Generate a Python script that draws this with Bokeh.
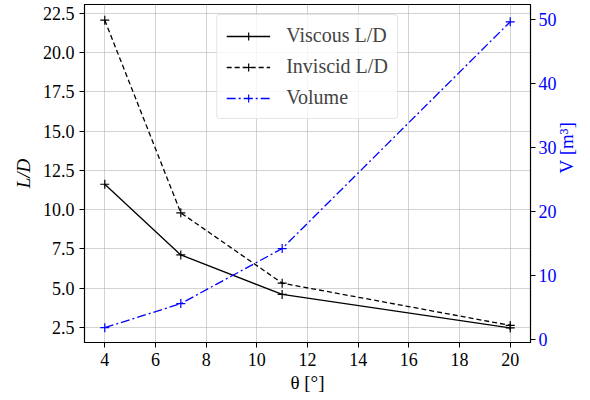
import math
from bokeh.plotting import figure
from bokeh.models import (Range1d, LinearAxis, FixedTicker, Legend, LegendItem,
                          CustomJSTickFormatter)
from bokeh.embed import file_html
from bokeh.resources import INLINE

theta = [4, 7, 11, 20]
viscous_ld = [11.62, 7.12, 4.6, 2.47]
inviscid_ld = [22.07, 9.8, 5.32, 2.63]
volume = [1.85, 5.6, 14.2, 49.6]

x_ticks = [4, 6, 8, 10, 12, 14, 16, 18, 20]
ld_ticks = [2.5, 5.0, 7.5, 10.0, 12.5, 15.0, 17.5, 20.0, 22.5]
v_ticks = [0, 10, 20, 30, 40, 50]

FONT = "Liberation Serif"
BLUE = "#0000ff"

p = figure(width=590, height=400, output_backend="svg", toolbar_location=None,
           x_range=Range1d(3.2, 20.8), y_range=Range1d(1.54, 23.07),
           min_border_left=84, min_border_right=54, min_border_top=4, min_border_bottom=58)
p.extra_y_ranges = {"vol": Range1d(-0.47, 52.3)}

p.outline_line_color = "black"
p.outline_line_width = 1.2
p.outline_line_alpha = 1

p.xgrid.ticker = FixedTicker(ticks=x_ticks)
p.ygrid.ticker = FixedTicker(ticks=ld_ticks)
for g in (p.xgrid[0], p.ygrid[0]):
    g.grid_line_color = "#b0b0b0"
    g.grid_line_alpha = 0.7
    g.grid_line_width = 0.8

def style_axis(ax, color):
    ax.axis_line_color = "black"
    ax.major_tick_line_color = "black"
    ax.minor_tick_line_color = None
    ax.major_tick_out = 5
    ax.major_tick_in = 0
    ax.major_label_text_font = FONT
    ax.major_label_text_font_size = "18px"
    ax.major_label_text_color = color
    ax.axis_label_text_font = FONT
    ax.axis_label_text_font_size = "19px"
    ax.axis_label_text_font_style = "normal"
    ax.axis_label_text_color = color

xa = p.xaxis[0]
xa.ticker = FixedTicker(ticks=x_ticks)
xa.axis_label = "θ [°]"
style_axis(xa, "black")
xa.axis_label_standoff = 3

ya = p.yaxis[0]
ya.ticker = FixedTicker(ticks=ld_ticks)
ya.formatter = CustomJSTickFormatter(code="return tick.toFixed(1);")
ya.axis_label = "L/D"
style_axis(ya, "black")
ya.axis_label_text_font_style = "italic"
ya.axis_label_standoff = 6

ra = LinearAxis(y_range_name="vol", ticker=FixedTicker(ticks=v_ticks), axis_label="V [m³]")
style_axis(ra, BLUE)
ra.major_label_standoff = 3
ra.axis_label_standoff = 7
ra.axis_label_orientation = math.pi / 2
p.add_layout(ra, "right")

r1 = p.line(theta, viscous_ld, line_color="black", line_width=1.3)
s1 = p.scatter(theta, viscous_ld, marker="cross", size=9, line_color="black", line_width=1.2)
r2 = p.line(theta, inviscid_ld, line_color="black", line_width=1.3, line_dash="5 3")
s2 = p.scatter(theta, inviscid_ld, marker="cross", size=9, line_color="black", line_width=1.2)
r3 = p.line(theta, volume, line_color=BLUE, line_width=1.3, line_dash="9 3 2 3", y_range_name="vol")
s3 = p.scatter(theta, volume, marker="cross", size=9, line_color=BLUE, line_width=1.2, y_range_name="vol")

legend = Legend(items=[
    LegendItem(label="Viscous L/D", renderers=[r1, s1]),
    LegendItem(label="Inviscid L/D", renderers=[r2, s2]),
    LegendItem(label="Volume", renderers=[r3, s3]),
], location="top_center")
legend.label_text_font = FONT
legend.label_text_font_size = "20px"
legend.border_line_color = "#cccccc"
legend.border_line_width = 1
legend.border_radius = 4
legend.background_fill_alpha = 0.8
legend.margin = 10
legend.padding = 9
legend.spacing = 8
legend.glyph_width = 44
legend.label_standoff = 16
p.add_layout(legend, "center")

open("out.html", "w").write(file_html(p, INLINE))
